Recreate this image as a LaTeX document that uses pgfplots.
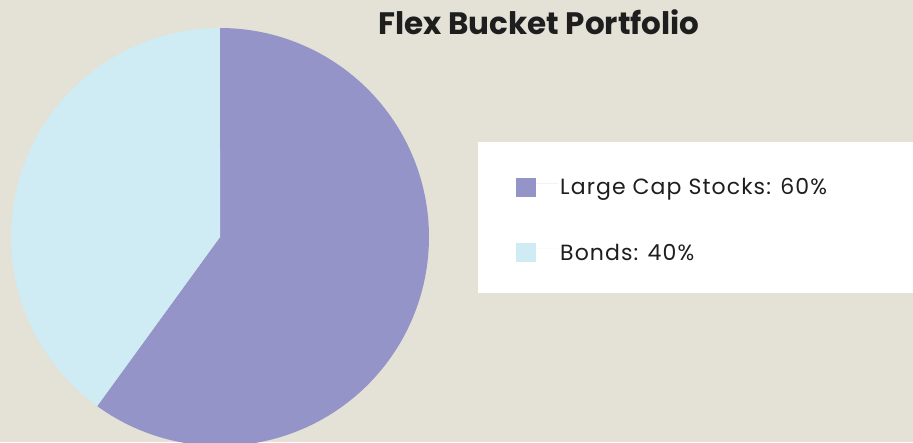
\documentclass[border=0pt]{standalone}
\usepackage{pgfplots}
\pgfplotsset{compat=1.18}
\usepackage{fontspec}
\setmainfont{Poppins}
\newfontfamily\legfont{Poppins}[LetterSpace=5]
\definecolor{bg}{HTML}{E4E1D7}
\definecolor{purp}{HTML}{9494C9}
\definecolor{lblue}{HTML}{CFEBF3}
\definecolor{txt}{HTML}{1E1E1E}
% shares of the portfolio, in percent
\def\shareA{60}
\def\shareB{40}
\begin{document}
\begin{tikzpicture}
\begin{axis}[
  scale only axis, width=913pt, height=442pt,
  xmin=0, xmax=913, ymin=0, ymax=442,
  hide axis, clip=true,
  legend style={draw=none, fill=none, at={(axis cs:513,222)}, anchor=west,
    font=\fontsize{22}{22}\legfont\color{txt}, row sep=44pt,
    /tikz/every even column/.append style={column sep=0pt}},
  legend cell align=left,
  legend image code/.code={\fill[#1] (0pt,-9.5pt) rectangle (20pt,9.5pt); \path (0,0) -- (42pt,0);},
]
\fill[bg] (axis cs:0,0) rectangle (axis cs:913,442);
\fill[white] (axis cs:478,300) rectangle (axis cs:913,149);
\addplot[draw=none, fill=purp, domain=90:{90-3.6*\shareA}, samples=150, variable=\t]
  ({220+209*cos(\t)},{205+209*sin(\t)}) -- (axis cs:220,205) -- cycle;
\addlegendentry{Large Cap Stocks: 60\%}
\addplot[draw=none, fill=lblue, domain={90-3.6*\shareA}:{90-3.6*(\shareA+\shareB)}, samples=120, variable=\t]
  ({220+209*cos(\t)},{205+209*sin(\t)}) -- (axis cs:220,205) -- cycle;
\addlegendentry{Bonds: 40\%}
\node[font=\fontsize{31}{31}\selectfont\bfseries, text=txt, anchor=base] at (axis cs:539,407) {Flex Bucket Portfolio};
\end{axis}
\end{tikzpicture}
\end{document}
